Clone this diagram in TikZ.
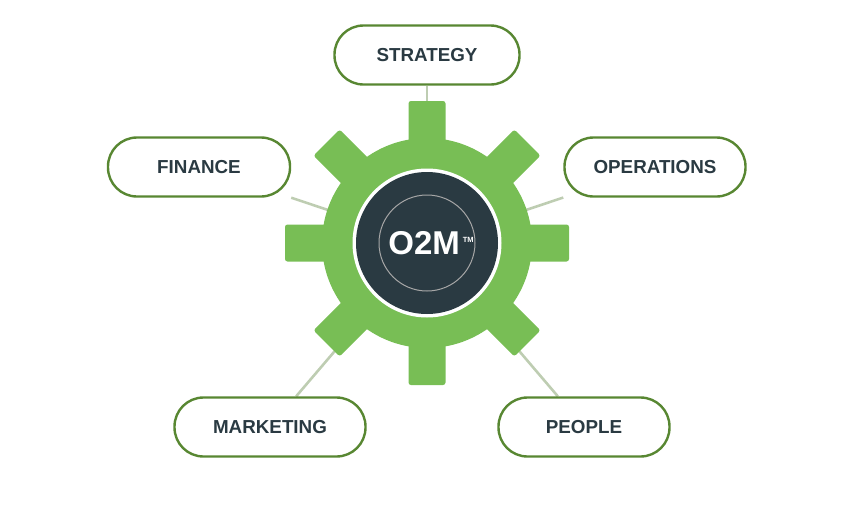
\documentclass[tikz,border=0pt]{standalone}
\usepackage{fontspec}
\setmainfont{Liberation Sans}
\usetikzlibrary{positioning,calc,backgrounds}
\definecolor{gearGreen}{RGB}{120,190,85}
\definecolor{pillGreen}{RGB}{88,135,50}
\definecolor{hubDark}{RGB}{42,58,66}
\definecolor{linkGray}{RGB}{190,205,178}

\begin{document}
\begin{tikzpicture}[
    x=1pt, y=1pt,
    pill/.style={rectangle, draw=pillGreen, line width=2.4pt, fill=white, rounded corners=29pt, minimum width=#1, minimum height=59pt, font=\bfseries\fontsize{18.8}{20}\selectfont, text=hubDark},
    link/.style={draw=linkGray, line width=2.6pt},
    tooth/.style={fill=gearGreen, rounded corners=2.5pt}
]
\useasboundingbox (0,0) rectangle (855,-517);

% Hub position
\coordinate (hub) at (427,-243);

% Pills
\node[pill=185pt] (strategy) at (427,-55) {STRATEGY};
\node[pill=182pt] (finance) at (199,-167) {FINANCE};
\node[pill=181pt] (operations) at (655,-167) {OPERATIONS};
\node[pill=191pt] (marketing) at (270,-427) {MARKETING};
\node[pill=171pt] (people) at (584,-427) {PEOPLE};

% Links behind everything
\begin{scope}[on background layer]
\foreach \n in {strategy,finance,operations,marketing,people}
    \draw[link] (\n) -- (hub);
\end{scope}

% Gear
\foreach \a in {0,45,...,315}
    \fill[tooth, rotate around={\a:(hub)}] ($(hub)+(-18.5,0)$) rectangle ($(hub)+(18.5,142)$);
\fill[gearGreen] (hub) circle (105);
\fill[white] (hub) circle (74.5);
\node[circle, fill=hubDark, minimum size=142pt, inner sep=0pt] (core) at (hub) {};
\draw[gray!70, line width=1pt] (hub) circle (48);
\node[text=white, font=\bfseries\fontsize{33}{36}\selectfont] (brand) at ($(hub)+(4,0)$) {O2M\hspace{3pt}\raisebox{12pt}{\fontsize{7.5}{8}\selectfont TM}};
\end{tikzpicture}
\end{document}
